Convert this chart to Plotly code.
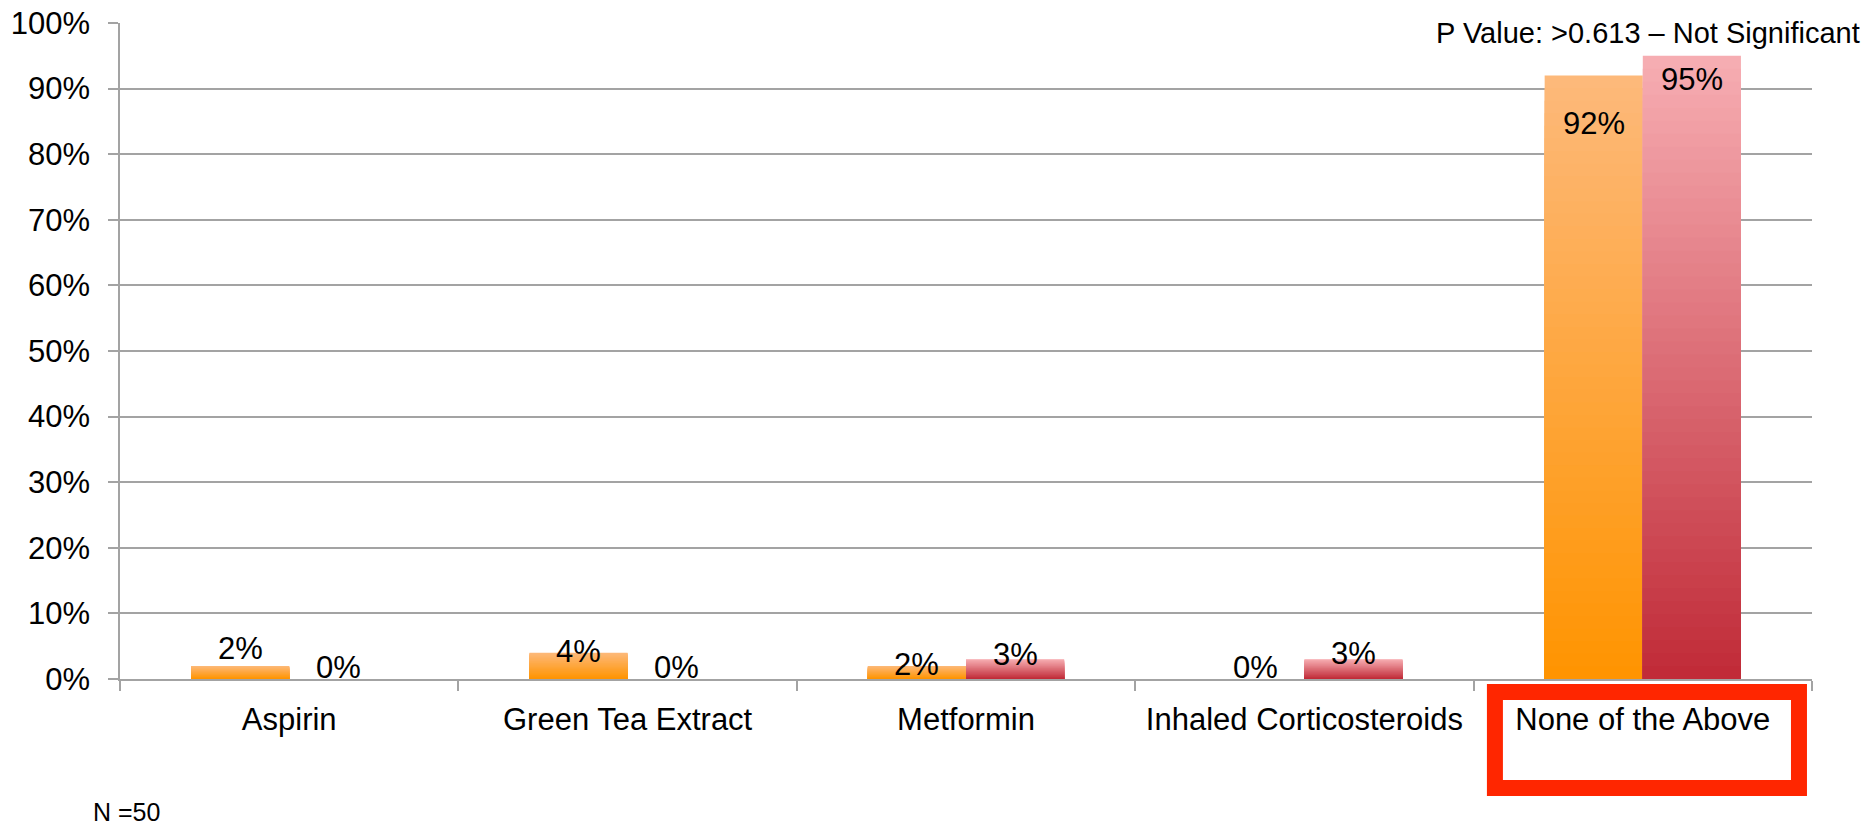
import plotly.graph_objects as go

# Medication use by group (fraction of respondents)
categories = ["Aspirin", "Green Tea Extract", "Metformin", "Inhaled Corticosteroids", "None of the Above"]
group_a = [0.02, 0.04, 0.02, 0.00, 0.92]
group_b = [0.00, 0.00, 0.03, 0.03, 0.95]
y_ticks = [0.0, 0.1, 0.2, 0.3, 0.4, 0.5, 0.6, 0.7, 0.8, 0.9, 1.0]
y_tick_labels = ["0%", "10%", "20%", "30%", "40%", "50%", "60%", "70%", "80%", "90%", "100%"]
p_value_note = "P Value: >0.613 – Not Significant"
sample_note = "N =50"

# label vertical nudges in pixels (relative to bar tops)
shift_a = [17, 1, 1, 12, -48]
shift_b = [12, 12, 5, 6, -24]

FONT = "Liberation Sans, Arial, sans-serif"
BAR_W = 0.29
N_SLICES = 48

# top -> bottom gradient colours for each series
grad_a = ((253, 185, 123), (255, 148, 0))
grad_b = ((247, 174, 179), (192, 42, 55))


def mix(c0, c1, t):
    return "rgb(%d,%d,%d)" % tuple(round(a + (b - a) * t) for a, b in zip(c0, c1))


fig = go.Figure()


def gradient_bars(values, offset, grad, name):
    # stack of shrinking overlaid bars gives a vertical gradient per bar
    for k in range(N_SLICES):
        frac = 1 - k / N_SLICES
        t = (k + 0.5) / N_SLICES
        fig.add_trace(go.Bar(
            x=categories,
            y=[v * frac for v in values],
            width=BAR_W,
            offset=offset,
            marker=dict(color=mix(grad[0], grad[1], t), line=dict(width=0)),
            name=name,
            showlegend=False,
            hoverinfo="skip" if k else "x+y",
        ))


gradient_bars(group_a, -BAR_W, grad_a, "Group A")
gradient_bars(group_b, 0.0, grad_b, "Group B")

px_per_cat = 1692 / len(categories)
dx = BAR_W / 2 * px_per_cat

annotations = []
for vals, shifts, sign in ((group_a, shift_a, -1), (group_b, shift_b, 1)):
    for cat, v, s in zip(categories, vals, shifts):
        annotations.append(dict(
            x=cat, y=v, xref="x", yref="y",
            text="%d%%" % round(v * 100),
            showarrow=False, xshift=sign * dx, yshift=s,
            xanchor="center", yanchor="middle",
            font=dict(family=FONT, size=31, color="black"),
        ))

annotations.append(dict(
    x=1.0296, y=0.985, xref="paper", yref="paper",
    text=p_value_note, showarrow=False, xanchor="right", yanchor="middle",
    font=dict(family=FONT, size=29, color="black"),
))
annotations.append(dict(
    x=-0.0171, y=-0.202, xref="paper", yref="paper",
    text=sample_note, showarrow=False, xanchor="left", yanchor="middle",
    font=dict(family=FONT, size=25, color="black"),
))

grid = "#A3A3A3"

fig.update_layout(
    width=1868, height=826,
    margin=dict(l=120, r=56, t=23, b=147, pad=0, autoexpand=False),
    paper_bgcolor="white", plot_bgcolor="white",
    barmode="overlay",
    showlegend=False,
    annotations=annotations,
    shapes=[dict(
        type="rect", xref="paper", yref="paper",
        x0=0.8126, x1=0.9923, y0=-0.1662, y1=-0.0198,
        line=dict(color="#FF2600", width=16), fillcolor="rgba(0,0,0,0)",
    )],
    font=dict(family=FONT, color="black"),
)

fig.update_xaxes(
    type="category", categoryorder="array", categoryarray=categories,
    range=[-0.5, len(categories) - 0.5],
    automargin=False,
    showline=True, linecolor=grid, linewidth=1.5,
    ticks="outside", tickson="boundaries", ticklen=10, tickcolor=grid, tickwidth=1.5,
    showgrid=False,
    tickfont=dict(family=FONT, size=31, color="black"),
    ticklabelstandoff=12,
)

fig.update_yaxes(
    range=[0, 1], tickvals=y_ticks, ticktext=y_tick_labels,
    automargin=False,
    showline=True, linecolor=grid, linewidth=1.5,
    ticks="outside", ticklen=10, tickcolor=grid, tickwidth=1.5,
    showgrid=True, gridcolor=grid, gridwidth=1.5,
    zeroline=False,
    tickfont=dict(family=FONT, size=31, color="black"),
    ticklabelstandoff=12,
)

fig.write_html("out.html")
